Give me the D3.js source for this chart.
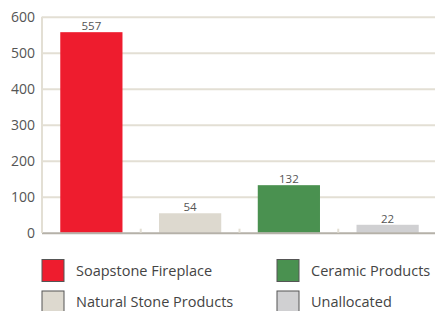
<!DOCTYPE html>
<html lang="en">
<head>
<meta charset="UTF-8">
<title>Segments</title>
<script src="https://d3js.org/d3.v7.min.js"></script>
<style>
body { margin: 0; background: #fff; }
svg text { font-family: "Open Sans", "Noto Sans", sans-serif; }
.grid line { stroke: #e3dfd4; stroke-width: 2px; }
.grid path { display: none; }
</style>
</head>
<body>
<div id="chart"></div>
<script>
var categories = ["Soapstone Fireplace", "Natural Stone Products", "Ceramic Products", "Unallocated"];
var values = [557, 54, 132, 22];
var colors = ["#ee1c2e", "#ddd9cf", "#4a9150", "#d0d0d2"];
var yTicks = [0, 100, 200, 300, 400, 500, 600];

var width = 435, height = 311;
var plotLeft = 42, plotRight = 437, plotTop = 16.7, plotBottom = 232.7;

var svg = d3.select("#chart").append("svg")
    .attr("width", width)
    .attr("height", height);

var x = d3.scaleBand()
    .domain(categories)
    .range([plotLeft, plotRight])
    .paddingInner(0.37)
    .paddingOuter(0.185);

var y = d3.scaleLinear()
    .domain([0, 600])
    .range([plotBottom, plotTop]);

// gridlines
svg.append("g")
    .attr("class", "grid")
    .attr("transform", "translate(" + plotLeft + ",0)")
    .call(d3.axisRight(y).tickValues(yTicks.slice(1)).tickSize(width - plotLeft).tickFormat(""));

// y axis line
svg.append("line")
    .attr("x1", plotLeft).attr("x2", plotLeft)
    .attr("y1", y(600)).attr("y2", y(0))
    .attr("stroke", "#e3dfd4").attr("stroke-width", 2);

// y labels
svg.append("g").selectAll("text")
    .data(yTicks)
    .join("text")
    .attr("x", 35)
    .attr("y", function(d) { return y(d); })
    .attr("dy", "0.36em")
    .attr("text-anchor", "end")
    .attr("font-size", 14)
    .attr("fill", "#555")
    .text(function(d) { return d; });

// bars
svg.append("g").selectAll("rect")
    .data(values)
    .join("rect")
    .attr("x", function(d, i) { return x(categories[i]); })
    .attr("y", function(d) { return y(d); })
    .attr("width", x.bandwidth())
    .attr("height", function(d) { return y(0) - y(d); })
    .attr("fill", function(d, i) { return colors[i]; });

// value labels
svg.append("g").selectAll("text")
    .data(values)
    .join("text")
    .attr("x", function(d, i) { return x(categories[i]) + x.bandwidth() / 2; })
    .attr("y", function(d) { return y(d) - 2; })
    .attr("text-anchor", "middle")
    .attr("font-size", 11.5)
    .attr("fill", "#555")
    .text(function(d) { return d; });

// x axis baseline + ticks at band edges
svg.append("line")
    .attr("x1", plotLeft).attr("x2", width)
    .attr("y1", plotBottom + 0.5).attr("y2", plotBottom + 0.5)
    .attr("stroke", "#b5b1a8").attr("stroke-width", 2);

var step = x.step();
svg.append("g").selectAll("line")
    .data(d3.range(categories.length))
    .join("line")
    .attr("x1", function(i) { return x(categories[i]) - x.paddingOuter() * step; })
    .attr("x2", function(i) { return x(categories[i]) - x.paddingOuter() * step; })
    .attr("y1", plotBottom - 4).attr("y2", plotBottom)
    .attr("stroke", "#e3dfd4").attr("stroke-width", 2);

// legend: first column Soapstone / Natural Stone, second Ceramic / Unallocated
var legend = svg.append("g").selectAll("g")
    .data(categories)
    .join("g")
    .attr("transform", function(d, i) {
        var col = i < 2 ? 0 : 1;
        var row = i % 2;
        return "translate(" + (42 + col * 235) + "," + (259.5 + row * 31.5) + ")";
    });

legend.append("rect")
    .attr("width", 22).attr("height", 22)
    .attr("fill", function(d, i) { return colors[i]; })
    .attr("stroke", "#555").attr("stroke-width", 1);

legend.append("text")
    .attr("x", 34).attr("y", 11)
    .attr("dy", "0.36em")
    .attr("font-size", 14.5)
    .attr("fill", "#444")
    .text(function(d) { return d; });
</script>
</body>
</html>
